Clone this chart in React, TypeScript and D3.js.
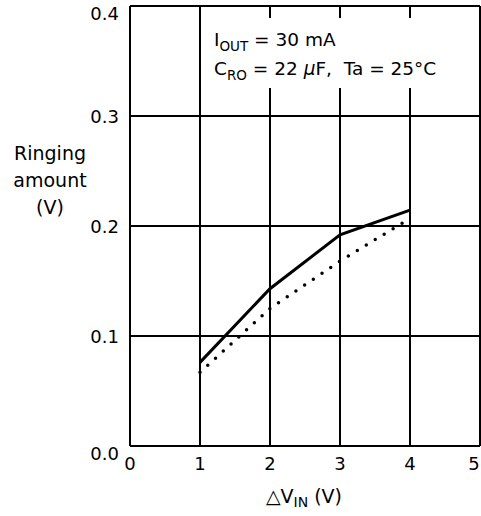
import React from 'react';
import * as d3 from 'd3';

// Axis ticks
const xTicks = [0, 1, 2, 3, 4, 5];
const yTicks = [0.0, 0.1, 0.2, 0.3, 0.4];
const yTickLabels = ['0.0', '0.1', '0.2', '0.3', '0.4'];

// Series
const deltaVin = [1, 2, 3, 4];
const ringingSolid = [0.076, 0.143, 0.192, 0.2145];
const ringingDotted = [0.067, 0.125, 0.168, 0.207];

const width = 481;
const height = 516;
const margin = { top: 6, right: 1, bottom: 70, left: 130 };
const font = '"DejaVu Sans", "Open Sans", sans-serif';

const x = d3.scaleLinear().domain([0, 5]).range([margin.left, width - margin.right]);
const y = d3.scaleLinear().domain([0, 0.4]).range([height - margin.bottom, margin.top]);

const line = d3.line<number>()
  .x((_, i) => x(deltaVin[i]))
  .y((d) => y(d));

const App: React.FC = () => {
  const [x0, x1] = x.range();
  const [y0, y1] = y.range();
  return (
    <svg
      width={width}
      height={height}
      style={{ position: 'absolute', left: 0, top: 0, background: '#fff' }}
      fontFamily={font}
    >
      {/* grid */}
      {xTicks.map((t) => (
        <line key={`vx${t}`} x1={x(t)} x2={x(t)} y1={y0} y2={y1} stroke="#000" strokeWidth={2} />
      ))}
      {yTicks.map((t) => (
        <line key={`hy${t}`} x1={x0} x2={x1} y1={y(t)} y2={y(t)} stroke="#000" strokeWidth={2} />
      ))}

      {/* annotation box hides grid behind it */}
      <rect x={x(1) + 1} y={y1 + 12} width={x1 - x(1) - 3} height={70} fill="#fff" />
      <text x={x(1) + 14} y={46} fontSize={18.5}>
        I<tspan fontSize={13.5} dy={5}>OUT</tspan><tspan dy={-5}>{'\u00A0=\u00A030 mA'}</tspan>
      </text>
      <text x={x(1) + 14} y={75} fontSize={18.5}>
        C<tspan fontSize={13.5} dy={5}>RO</tspan>
        <tspan dy={-5}>{'\u00A0=\u00A022 '}</tspan><tspan fontStyle="italic">μ</tspan>
        <tspan>{'F,\u00A0\u00A0Ta\u00A0=\u00A025°C'}</tspan>
      </text>

      {/* series */}
      <path d={line(ringingDotted) ?? ''} fill="none" stroke="#000" strokeWidth={3.5}
        strokeLinecap="round" strokeDasharray="0 10.5" />
      <path d={line(ringingSolid) ?? ''} fill="none" stroke="#000" strokeWidth={3} />

      {/* y tick labels */}
      {yTicks.map((t, i) => (
        <text key={`yl${t}`} x={x0 - 11} y={y(t) + (i === 0 || i === yTicks.length - 1 ? 14 : 7)}
          fontSize={18} textAnchor="end">
          {yTickLabels[i]}
        </text>
      ))}

      {/* x tick labels */}
      {xTicks.map((t, i) => (
        <text key={`xl${t}`} x={i === xTicks.length - 1 ? x(t) - 6 : x(t)} y={y0 + 24}
          fontSize={18} textAnchor="middle">{t}</text>
      ))}

      {/* axis titles */}
      <text x={50} y={160} fontSize={19} textAnchor="middle">
        <tspan x={50}>Ringing</tspan>
        <tspan x={50} dy={27}>amount</tspan>
        <tspan x={50} dy={27}>(V)</tspan>
      </text>
      <text x={304} y={503} fontSize={19} textAnchor="middle">
        △V<tspan fontSize={14} dy={4}>IN</tspan><tspan dy={-4}> (V)</tspan>
      </text>
    </svg>
  );
};

export default App;
